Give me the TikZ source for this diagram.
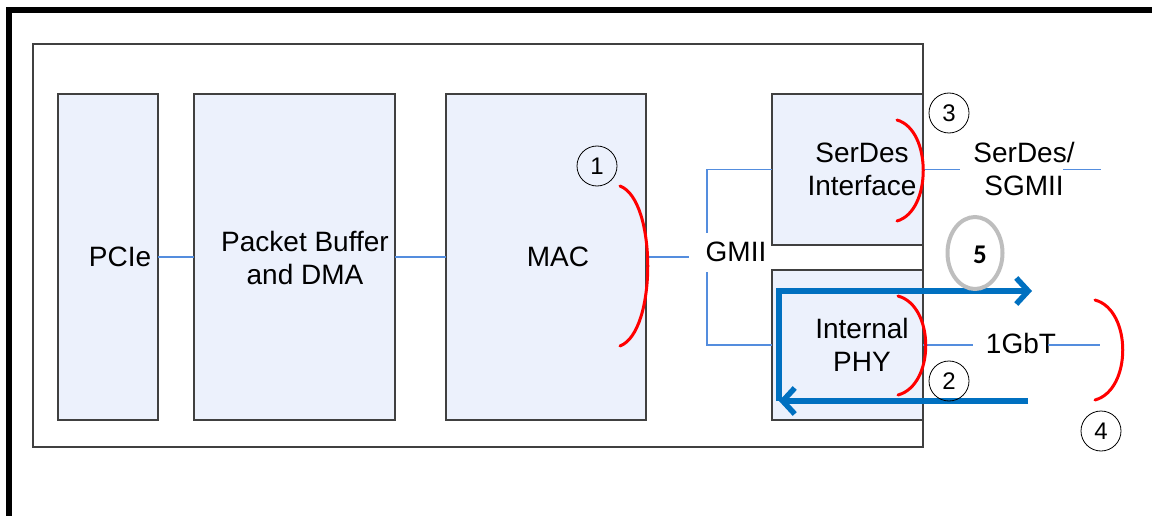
\documentclass[tikz,border=0pt]{standalone}
\usepackage{fontspec}
\setmainfont{Liberation Sans}
\newfontfamily\calibri{Carlito}
\usetikzlibrary{arrows.meta,shapes.geometric}
\definecolor{boxfill}{RGB}{236,241,252}
\definecolor{boxline}{RGB}{64,64,64}
\definecolor{wire}{RGB}{84,141,222}
\definecolor{flow}{RGB}{0,112,192}
\definecolor{ringgray}{RGB}{190,190,190}

\begin{document}
\begin{tikzpicture}[x=1pt,y=-1pt,
  every node/.style={font=\fontsize{28}{33}\selectfont, inner sep=0pt, outer sep=0pt},
  block/.style={draw=boxline, fill=boxfill, line width=1.5pt},
  label text/.style={align=center},
  wireline/.style={draw=wire, line width=1.2pt},
  tag/.style={circle, draw=black, line width=0.8pt, minimum size=40pt,
    font=\fontsize{24}{24}\selectfont},
  seam/.style={draw=red, line width=3pt, line cap=round},
  flowline/.style={draw=flow, line width=5.5pt,
    -{Straight Barb[length=12pt 0,width=26pt 0]}},
]
\useasboundingbox (0,0) rectangle (1152,516);

% page frame
\draw[line width=6pt] (8.5,516) -- (8.5,10) -- (1152,10);

% chip outline
\node[draw=boxline, line width=1.5pt, minimum width=890pt, minimum height=403pt] (chip) at (478,245.5) {};

% functional blocks
\node[block, minimum width=100pt, minimum height=326pt] (pcie)   at (108,257)   {};
\node[block, minimum width=201pt, minimum height=326pt] (pb)     at (294.5,257) {};
\node[block, minimum width=200pt, minimum height=326pt] (mac)    at (546,257)   {};
\node[block, minimum width=151pt, minimum height=151pt] (serdes) at (847.5,169.5) {};
\node[block, minimum width=151pt, minimum height=150pt] (phy)    at (847.5,345) {};

% block labels
\node[label text] (pcieText)   at (120,257) {PCIe};
\node[label text] (pbText)     at (305,258) {Packet Buffer\\and DMA};
\node[label text] (macText)    at (558,257) {MAC};
\node[label text] (gmii)       at (736,252) {GMII};
\node[label text] (serdesText) at (862,169) {SerDes\\Interface};
\node[label text] (sgmii)      at (1024,169) {SerDes/\\SGMII};
\node[label text] (phyText)    at (862,345) {Internal\\PHY};
\node[label text] (gbt)        at (1021,343) {1GbT};

% internal wiring
\coordinate (gl)   at (689,257);
\coordinate (gtop) at (707,233);
\coordinate (gbot) at (707,272);
\draw[wireline] (pcie.east) -- (pb.west);
\draw[wireline] (pb.east) -- (mac.west);
\draw[wireline] (mac.east) -- (gl);
\draw[wireline] (serdes.west) -| (gtop);
\draw[wireline] (phy.west) -| (gbot);

% external links
\coordinate (sgA) at (960,169.5);
\coordinate (sgB) at (1063,169.5);
\coordinate (sgC) at (1101,169.5);
\draw[wireline] (serdes.east) -- (sgA);
\draw[wireline] (sgB) -- (sgC);
\coordinate (gbA) at (973,345);
\coordinate (gbB) at (1048,345);
\coordinate (gbC) at (1100,345);
\draw[wireline] (phy.east) -- (gbA);
\draw[wireline] (gbB) -- (gbC);

% loopback paths
\coordinate (fR) at (1028,401);
\coordinate (fL) at (779,401);
\coordinate (fU) at (779,291);
\coordinate (fE) at (1032,291);
\draw[flowline] (fR) -- (fL);
\draw[flowline] (fL) -- (fU) -- (fE);

% loopback boundaries
\draw[seam] (620,186) .. controls (657,200) and (657,332) .. (620,346);
\draw[seam] (897,120) .. controls (932,130) and (932,211) .. (897,221);
\draw[seam] (898,296) .. controls (935,306) and (935,385) .. (898,395);
\draw[seam] (1095,300) .. controls (1132,310) and (1132,390) .. (1095,400);

% numbered tags
\node[tag] (t1) at (597,166) {1};
\node[tag] (t2) at (949,381) {2};
\node[tag] (t3) at (949,113) {3};
\node[tag] (t4) at (1101,431) {4};
\node[ellipse, draw=ringgray, line width=4pt, minimum width=55pt, minimum height=72pt] (t5) at (975,253) {};
\node[font=\calibri\bfseries\fontsize{27}{27}\selectfont] (t5num) at (980,255) {5};
\end{tikzpicture}
\end{document}
